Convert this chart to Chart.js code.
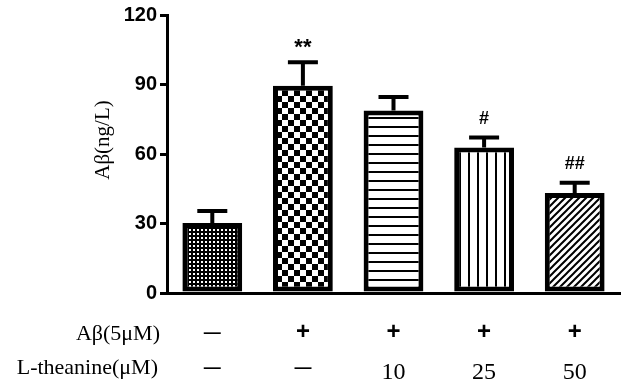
<!DOCTYPE html>
<html>
<head>
<meta charset="utf-8">
<script src="https://cdn.jsdelivr.net/npm/chart.js@4.4.0/dist/chart.umd.min.js"></script>
<style>
  body { margin: 0; background: #fff; }
</style>
</head>
<body>
<canvas id="grafico" width="624" height="386"></canvas>
<script>
// dados
const grupos = ['Controle', 'Aβ', 'Aβ + LT 10', 'Aβ + LT 25', 'Aβ + LT 50']
const medias = [30.2, 89.5, 78.8, 62.8, 43.2]
const erros = [5.2, 10.1, 5.8, 4.3, 4.4]
const marcas = ['', '**', '', '#', '##']
const linhaAb = ['—', '+', '+', '+', '+']
const linhaLT = ['—', '—', '10', '25', '50']
const ticksY = [0, 30, 60, 90, 120]

const serif = "'Liberation Serif', 'Times New Roman', serif"
const sans = "'Liberation Sans', Arial, sans-serif"

// padroes de preenchimento das barras
function padrao(tipo) {
  const c = document.createElement('canvas')
  const g = c.getContext('2d')
  if (tipo == 'pontos') {
    c.width = 4; c.height = 4
    g.fillStyle = '#000'; g.fillRect(0, 0, 4, 4)
    g.fillStyle = '#fff'; g.fillRect(1, 1, 2, 2)
  } else if (tipo == 'xadrez') {
    c.width = 12; c.height = 12
    g.fillStyle = '#fff'; g.fillRect(0, 0, 12, 12)
    g.fillStyle = '#000'; g.fillRect(0, 0, 6, 6); g.fillRect(6, 6, 6, 6)
  } else if (tipo == 'horizontal') {
    c.width = 9; c.height = 9
    g.fillStyle = '#fff'; g.fillRect(0, 0, 9, 9)
    g.fillStyle = '#000'; g.fillRect(0, 0, 9, 2)
  } else if (tipo == 'vertical') {
    c.width = 9; c.height = 9
    g.fillStyle = '#fff'; g.fillRect(0, 0, 9, 9)
    g.fillStyle = '#000'; g.fillRect(0, 0, 2, 9)
  } else {
    const n = 7
    c.width = n; c.height = n
    g.fillStyle = '#fff'; g.fillRect(0, 0, n, n)
    g.strokeStyle = '#000'; g.lineWidth = 2
    g.beginPath()
    g.moveTo(0, n); g.lineTo(n, 0)
    g.moveTo(-1, 1); g.lineTo(1, -1)
    g.moveTo(n - 1, n + 1); g.lineTo(n + 1, n - 1)
    g.stroke()
  }
  return g.createPattern(c, 'repeat')
}

const preenchimentos = ['pontos', 'xadrez', 'horizontal', 'vertical', 'diagonal'].map(padrao)

// barras de erro + asteriscos
const pluginErro = {
  id: 'erro',
  afterDatasetsDraw(chart) {
    const ctx = chart.ctx
    const y = chart.scales.y
    const meta = chart.getDatasetMeta(0)
    ctx.save()
    ctx.strokeStyle = '#000'
    ctx.lineWidth = 4
    meta.data.forEach((bar, i) => {
      const topo = y.getPixelForValue(medias[i])
      const fim = y.getPixelForValue(medias[i] + erros[i])
      ctx.beginPath()
      ctx.moveTo(bar.x, topo)
      ctx.lineTo(bar.x, fim)
      ctx.moveTo(bar.x - 15, fim)
      ctx.lineTo(bar.x + 15, fim)
      ctx.stroke()
      if (marcas[i]) {
        ctx.fillStyle = '#000'
        ctx.textAlign = 'center'
        ctx.textBaseline = 'middle'
        ctx.font = marcas[i] == '**' ? 'bold 22px ' + sans : 'bold 18px ' + sans
        ctx.fillText(marcas[i], bar.x, fim - (marcas[i] == '**' ? 14 : 19))
      }
    })
    ctx.restore()
  }
}

// tabela de tratamentos embaixo + titulo do eixo y
const pluginTabela = {
  id: 'tabela',
  afterDraw(chart) {
    const ctx = chart.ctx
    const meta = chart.getDatasetMeta(0)
    ctx.save()
    ctx.fillStyle = '#000'
    ctx.textBaseline = 'middle'
    ctx.textAlign = 'right'
    ctx.font = '22px ' + serif
    ctx.fillText('Aβ(5μM)', 160, 334)
    ctx.fillText('L-theanine(μM)', 158, 368)
    ctx.textAlign = 'center'
    meta.data.forEach((bar, i) => {
      if (linhaAb[i] == '—') {
        ctx.font = 'bold 17px ' + sans
        ctx.fillText(linhaAb[i], bar.x, 333)
      } else {
        ctx.font = 'bold 24px ' + sans
        ctx.fillText(linhaAb[i], bar.x, 332)
      }
      if (linhaLT[i] == '—') {
        ctx.font = 'bold 17px ' + sans
        ctx.fillText(linhaLT[i], bar.x, 368)
      } else {
        ctx.font = '24px ' + serif
        ctx.fillText(linhaLT[i], bar.x, 373)
      }
    })
    ctx.translate(103, 140)
    ctx.rotate(-Math.PI / 2)
    ctx.font = '21px ' + serif
    ctx.fillText('Aβ(ng/L)', 0, 0)
    ctx.restore()
  }
}

const config = {
  type: 'bar',
  data: {
    labels: grupos,
    datasets: [{
      data: medias,
      backgroundColor: preenchimentos,
      borderColor: '#000',
      borderWidth: 5,
      borderSkipped: false,
      barPercentage: 0.66,
      categoryPercentage: 1
    }]
  },
  options: {
    responsive: false,
    animation: false,
    devicePixelRatio: 1,
    layout: { padding: { top: 12, right: 4, left: 0, bottom: 0 } },
    plugins: { legend: { display: false }, tooltip: { enabled: false } },
    scales: {
      x: {
        afterFit: s => { s.height = 93 },
        grid: { display: false },
        border: { color: '#000', width: 3 },
        ticks: { display: false }
      },
      y: {
        min: 0,
        max: 120,
        afterFit: s => { s.width = 167 },
        afterBuildTicks: s => { s.ticks = ticksY.map(v => ({ value: v })) },
        border: { color: '#000', width: 3 },
        grid: { drawOnChartArea: false, drawTicks: true, tickLength: 7, lineWidth: 3, color: '#000' },
        ticks: { color: '#000', padding: 3, font: { family: sans, size: 20, weight: 'bold' } }
      }
    }
  },
  plugins: [pluginErro, pluginTabela]
}

const grafico = new Chart(document.getElementById('grafico'), config)
</script>
</body>
</html>
